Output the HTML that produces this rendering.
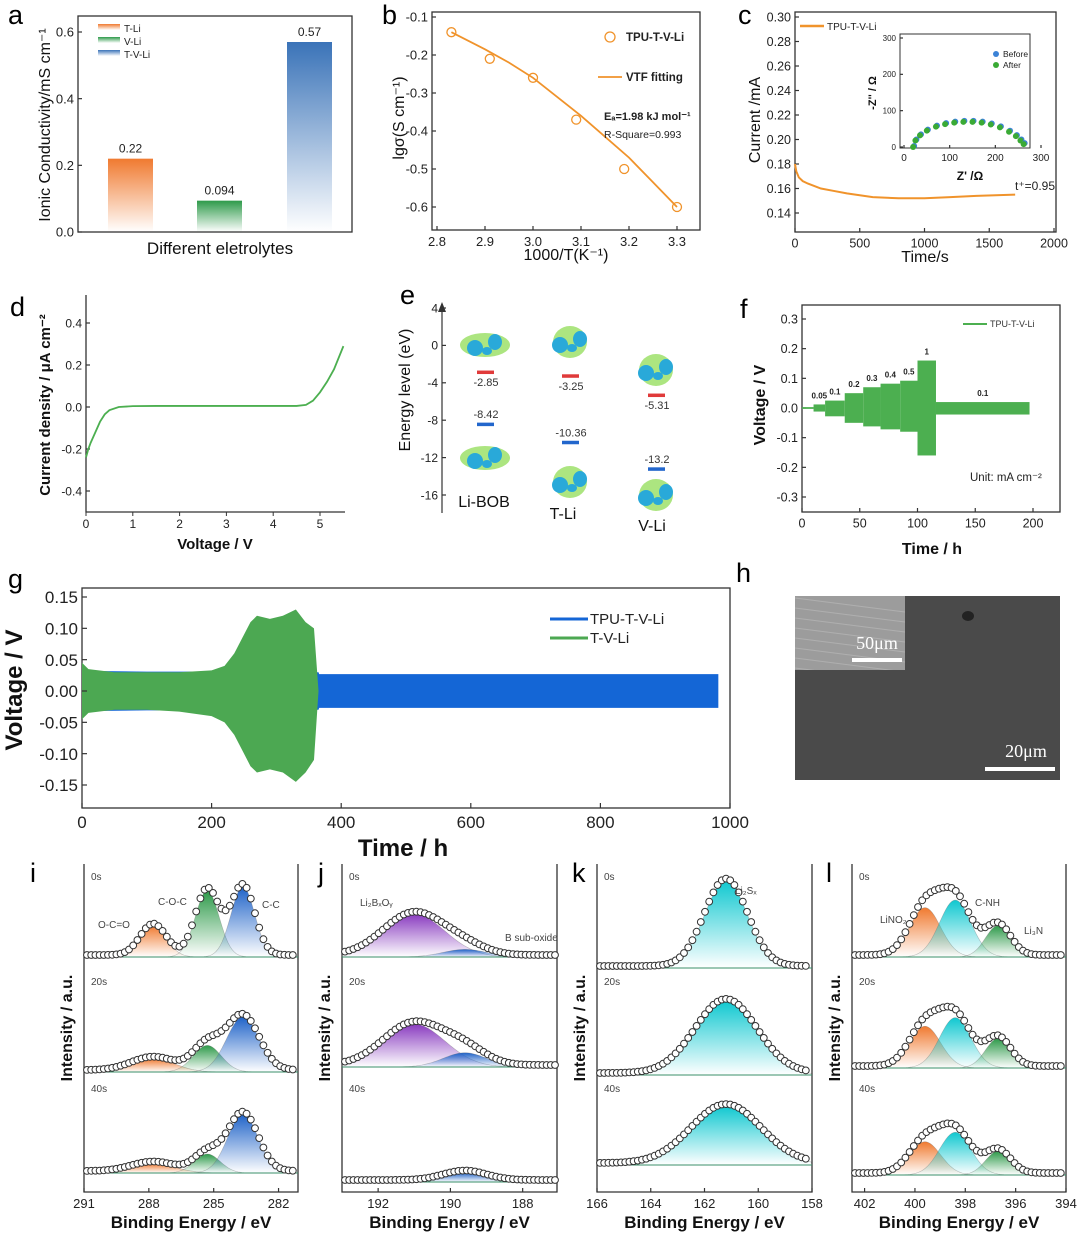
<!DOCTYPE html>
<html><head><meta charset="utf-8">
<style>
html,body{margin:0;padding:0;background:#fff;}
svg{display:block;font-family:"Liberation Sans",Arial,sans-serif;}
</style></head>
<body>
<svg id="fig" width="1080" height="1235" viewBox="0 0 1080 1235">
<defs>
 <linearGradient id="gOrange" x1="0" y1="0" x2="0" y2="1"><stop offset="0" stop-color="#f07a30"/><stop offset="1" stop-color="#f07a30" stop-opacity="0"/></linearGradient>
 <linearGradient id="gGreen" x1="0" y1="0" x2="0" y2="1"><stop offset="0" stop-color="#2e9a4a"/><stop offset="1" stop-color="#2e9a4a" stop-opacity="0"/></linearGradient>
 <linearGradient id="gBlue" x1="0" y1="0" x2="0" y2="1"><stop offset="0" stop-color="#1f63c8"/><stop offset="1" stop-color="#1f63c8" stop-opacity="0"/></linearGradient>
 <linearGradient id="gBarBlue" x1="0" y1="0" x2="0" y2="1"><stop offset="0" stop-color="#3a73b8"/><stop offset="1" stop-color="#3a73b8" stop-opacity="0"/></linearGradient>
 <linearGradient id="gPurple" x1="0" y1="0" x2="0" y2="1"><stop offset="0" stop-color="#8a3cc0"/><stop offset="1" stop-color="#8a3cc0" stop-opacity="0"/></linearGradient>
 <linearGradient id="gCyan" x1="0" y1="0" x2="0" y2="1"><stop offset="0" stop-color="#10c8d0"/><stop offset="1" stop-color="#10c8d0" stop-opacity="0"/></linearGradient>
 <clipPath id="insClip"><rect x="795" y="596" width="110" height="74"/></clipPath>
</defs>
</svg>
<script>
// ---------- DATA ----------
const aCats=['T-Li','V-Li','T-V-Li'];
const aVals=[0.22,0.094,0.57];
const aTicks=[0,0.2,0.4,0.6];
const bX=[2.83,2.91,3.0,3.09,3.19,3.3];
const bY=[-0.14,-0.21,-0.26,-0.37,-0.50,-0.60];
const bFitX=[2.83,2.9,2.95,3.0,3.05,3.1,3.15,3.2,3.25,3.3];
const bFitY=[-0.14,-0.185,-0.22,-0.26,-0.31,-0.36,-0.415,-0.47,-0.535,-0.60];
const bXT=[2.8,2.9,3.0,3.1,3.2,3.3];
const bYT=[-0.1,-0.2,-0.3,-0.4,-0.5,-0.6];
const cT=[0,10,30,60,100,200,300,400,600,800,1000,1200,1400,1700];
const cI=[0.18,0.174,0.169,0.166,0.164,0.160,0.158,0.156,0.153,0.152,0.152,0.153,0.154,0.155];
const cXT=[0,500,1000,1500,2000];
const cYT=[0.14,0.16,0.18,0.20,0.22,0.24,0.26,0.28,0.30];
const cZre=[20,25,35,50,70,90,110,130,150,170,190,210,230,245,255,262];
const cZim=[0,18,32,45,56,63,67,69,69,67,62,54,42,30,18,8];
const dV=[0,0.05,0.1,0.2,0.3,0.4,0.5,0.7,1,1.5,2,3,4,4.5,4.7,4.85,5,5.15,5.3,5.5];
const dI=[-0.24,-0.2,-0.17,-0.12,-0.07,-0.035,-0.015,0,0.004,0.005,0.005,0.005,0.005,0.005,0.01,0.03,0.07,0.12,0.18,0.29];
const dXT=[0,1,2,3,4,5];
const dYT=[-0.4,-0.2,0,0.2,0.4];
const eMols=['Li-BOB','T-Li','V-Li'];
const eLumo=[-2.85,-3.25,-5.31];
const eHomo=[-8.42,-10.36,-13.2];
const eYT=[4,0,-4,-8,-12,-16];
const fStart=[0,10,20,37,53,68,85,100,116];
const fEnd=[10,20,37,53,68,85,100,116,197];
const fUp=[0.003,0.012,0.025,0.05,0.07,0.082,0.092,0.16,0.02];
const fDn=[-0.003,-0.012,-0.028,-0.05,-0.062,-0.072,-0.08,-0.16,-0.022];
const fLab=['','0.05','0.1','0.2','0.3','0.4','0.5','1','0.1'];
const fXT=[0,50,100,150,200];
const fYT=[-0.3,-0.2,-0.1,0,0.1,0.2,0.3];
const gBlueT=[0,20,100,200,300,365,366,500,700,900,982];
const gBlueUp=[0.033,0.032,0.031,0.031,0.031,0.03,0.027,0.027,0.027,0.027,0.027];
const gBlueDn=[-0.033,-0.032,-0.031,-0.031,-0.031,-0.03,-0.027,-0.027,-0.027,-0.027,-0.027];
const gGreenT=[0,10,50,100,150,200,220,235,250,260,270,290,310,330,345,358,365];
const gGreenUp=[0.045,0.035,0.03,0.03,0.03,0.033,0.04,0.06,0.09,0.11,0.12,0.115,0.12,0.13,0.11,0.10,0.0];
const gGreenDn=[-0.045,-0.035,-0.03,-0.03,-0.033,-0.04,-0.05,-0.07,-0.1,-0.12,-0.13,-0.125,-0.13,-0.145,-0.13,-0.11,0.0];
const gXT=[0,200,400,600,800,1000];
const gYT=[-0.15,-0.10,-0.05,0,0.05,0.10,0.15];
const iC=[287.8,285.3,283.65];
const iH0=[33,70,74]; const iS0=[0.6,0.55,0.55];
const iH1=[14,28,58]; const iS1=[1.0,0.65,0.75];
const iH2=[10,20,62]; const iS2=[1.0,0.6,0.7];
const jC=[191.0,189.6];
const jH0=[45,8]; const jH1=[45,15]; const jH2=[0,10]; const jS=[0.85,0.6];
const kC=[161.2];
const kH0=[92]; const kH1=[78]; const kH2=[62]; const kS0=[0.8]; const kS1=[1.15]; const kS2=[1.3];
const lC=[399.6,398.4,396.7];
const lH0=[52,60,33]; const lH1=[44,53,31]; const lH2=[35,45,25]; const lS=[0.62,0.62,0.5];

// ---------- HELPERS ----------
const NS='http://www.w3.org/2000/svg';
const svg=document.getElementById('fig');
function mk(tag,attrs,parent){const e=document.createElementNS(NS,tag);for(const k in attrs)e.setAttribute(k,attrs[k]);(parent||svg).appendChild(e);return e;}
function txt(s,attrs,parent){const e=mk('text',attrs,parent);e.textContent=s;return e;}
function lin(d0,d1,r0,r1){return v=>r0+(v-d0)*(r1-r0)/(d1-d0);}
function group(name){const g=mk('g',{});return g;}
function frame(g,x0,y0,x1,y1){const r=mk('rect',{x:x0,y:y0,width:x1-x0,height:y1-y0,fill:'none',stroke:'#333','stroke-width':1.3},g);return r;}
function xTicks(g,sc,vals,yb,fs,fmt,len){for(const v of vals){const x=sc(v);const t=mk('line',{x1:x,x2:x,y1:yb,y2:yb-(len||4),stroke:'#333','stroke-width':1.2},g);const l=txt(fmt(v),{x:x,y:yb+fs+3,'font-size':fs,'text-anchor':'middle',fill:'#222'},g);}}
function yTicks(g,sc,vals,xl,fs,fmt,len){for(const v of vals){const y=sc(v);const t=mk('line',{x1:xl,x2:xl+(len||4),y1:y,y2:y,stroke:'#333','stroke-width':1.2},g);const l=txt(fmt(v),{x:xl-4,y:y+fs*0.36,'font-size':fs,'text-anchor':'end',fill:'#222'},g);}}
function vlabel(g,s,x,y,fs,bold,name){const t=txt(s,{x:x,y:y,'font-size':fs,'text-anchor':'middle',transform:`rotate(-90 ${x} ${y})`,'font-weight':bold?'bold':'normal',fill:'#111'},g);return t;}
function hlabel(g,s,x,y,fs,bold,name){const t=txt(s,{x:x,y:y,'font-size':fs,'text-anchor':'middle','font-weight':bold?'bold':'normal',fill:'#111'},g);return t;}
function panelLetter(s,x,y){const t=txt(s,{x:x,y:y,'font-size':27,fill:'#000'});}
const f1=v=>v.toFixed(1), f2=v=>v.toFixed(2), f0=v=>String(v);

// ---------- PANEL A ----------
(function(){
const g=group('panel-a-bar-chart');
const y=lin(0,0.6,232,32);
frame(g,78,16,352,232);
yTicks(g,y,aTicks,78,13,f1);
const xs=[108,197,287]; const fills=['url(#gOrange)','url(#gGreen)','url(#gBarBlue)'];
aVals.forEach((v,i)=>{
 const b=mk('rect',{x:xs[i],y:y(v),width:45,height:y(0)-y(v),fill:fills[i]},g);
 
 
 const l=txt(String(v),{x:xs[i]+22.5,y:y(v)-6,'font-size':12,'text-anchor':'middle',fill:'#222'},g);
 
 
 const sw=mk('rect',{x:98,y:24+i*13,width:22,height:6,fill:fills[i]},g);
 
 
 const lt=txt(aCats[i],{x:124,y:32+i*13,'font-size':10,fill:'#222'},g);
 
 
});
vlabel(g,'Ionic Conductivity/mS cm\u207B\u00B9',50,125,16,false,'y-axis-title');
hlabel(g,'Different eletrolytes',220,254,17,false,'x-axis-title');
panelLetter('a',8,24);
})();

// ---------- PANEL B ----------
(function(){
const g=group('panel-b-vtf');
const x=lin(2.8,3.3,437,677), y=lin(-0.1,-0.6,17,207);
frame(g,432,12,700,230);
xTicks(g,x,bXT,230,13,f1); yTicks(g,y,bYT,432,13,f1);
const fit=mk('polyline',{points:bFitX.map((v,i)=>x(v)+','+y(bFitY[i])).join(' '),fill:'none',stroke:'#f0932b','stroke-width':1.8},g);


bX.forEach((v,i)=>{const c=mk('circle',{cx:x(v),cy:y(bY[i]),r:4.5,fill:'none',stroke:'#f0932b','stroke-width':1.3},g);
 
 });
const lc=mk('circle',{cx:610,cy:37,r:5,fill:'none',stroke:'#f0932b','stroke-width':1.3},g);


const t1=txt('TPU-T-V-Li',{x:626,y:41,'font-size':11.5,'font-weight':'bold',fill:'#222'},g);


const ll=mk('line',{x1:598,x2:622,y1:77,y2:77,stroke:'#f0932b','stroke-width':1.8},g);


const t2=txt('VTF fitting',{x:626,y:81,'font-size':11.5,'font-weight':'bold',fill:'#222'},g);


const t3=txt('E\u2090=1.98 kJ mol\u207B\u00B9',{x:604,y:120,'font-size':11,'font-weight':'bold',fill:'#222'},g);


const t4=txt('R-Square=0.993',{x:604,y:138,'font-size':10.5,fill:'#222'},g);


vlabel(g,'lg\u03C3(S cm\u207B\u00B9)',404,118,16,false,'y-axis-title');
hlabel(g,'1000/T(K\u207B\u00B9)',566,260,16,false,'x-axis-title');
panelLetter('b',382,24);
})();

// ---------- PANEL C ----------
(function(){
const g=group('panel-c-current');
const x=lin(0,2000,795,1054), y=lin(0.14,0.30,213,17);
frame(g,795,12,1056,232);
xTicks(g,x,cXT,232,12.5,f0); yTicks(g,y,cYT,795,12.5,f2);
const l=mk('polyline',{points:cT.map((v,i)=>x(v)+','+y(cI[i])).join(' '),fill:'none',stroke:'#f0932b','stroke-width':2},g);


const lg=mk('line',{x1:800,x2:824,y1:26,y2:26,stroke:'#f0932b','stroke-width':2.5},g);


const lt=txt('TPU-T-V-Li',{x:827,y:30,'font-size':10,fill:'#222'},g);


const tp=txt('t\u207A=0.95',{x:1015,y:190,'font-size':12,fill:'#222'},g);


const ix=lin(0,300,904,1041), iy=lin(0,300,147,38);
const ig=mk('g',{},g);


mk('rect',{x:900,y:34,width:130,height:114,fill:'#fff',stroke:'#333','stroke-width':1},ig);
xTicks(ig,ix,[0,100,200,300],148,10,f0,3); yTicks(ig,iy,[0,100,200,300],900,8,f0,3);
cZre.forEach((v,i)=>{
 const a=mk('circle',{cx:ix(v)+1,cy:iy(cZim[i])-1,r:3,fill:'#3b82d6'},ig);
 
 
 const b=mk('circle',{cx:ix(v),cy:iy(cZim[i]),r:3,fill:'#3aaa35'},ig);
 
 
});
const d1=mk('circle',{cx:996,cy:54,r:3,fill:'#3b82d6'},ig);


const d2=mk('circle',{cx:996,cy:65,r:3,fill:'#3aaa35'},ig);


const e1=txt('Before',{x:1003,y:57,'font-size':8.5,fill:'#222'},ig);


const e2=txt('After',{x:1003,y:68,'font-size':8.5,fill:'#222'},ig);


vlabel(ig,"-Z'' / \u03A9",876,93,11,true,'inset-y-title');
hlabel(ig,"Z' /\u03A9",970,180,12,true,'inset-x-title');
vlabel(g,'Current /mA',760,120,16,false,'y-axis-title');
hlabel(g,'Time/s',925,262,16,false,'x-axis-title');
panelLetter('c',738,24);
})();

// ---------- PANEL D ----------
(function(){
const g=group('panel-d-lsv');
const x=lin(0,5,86,320), y=lin(-0.4,0.4,491,323);
const ax=mk('path',{d:'M86,295 V512 H345',fill:'none',stroke:'#333','stroke-width':1.3},g);


for(const v of dXT){const t=mk('line',{x1:x(v),x2:x(v),y1:512,y2:516,stroke:'#333'},g);
 const l=txt(String(v),{x:x(v),y:528,'font-size':12,'text-anchor':'middle',fill:'#222'},g);}
yTicks(g,y,dYT,86,12,f1);
const c=mk('polyline',{points:dV.map((v,i)=>x(v)+','+y(dI[i])).join(' '),fill:'none',stroke:'#4caf50','stroke-width':1.8},g);


vlabel(g,'Current density / \u03BCA cm\u207B\u00B2',50,405,15,true,'y-axis-title');
hlabel(g,'Voltage / V',215,549,15,true,'x-axis-title');
panelLetter('d',10,316);
})();

// ---------- PANEL E ----------
(function(){
const g=group('panel-e-energy-levels');
const y=lin(4,-16,308,495);
const ax=mk('path',{d:'M442,513 V306',fill:'none',stroke:'#333','stroke-width':1.2},g);


const ar=mk('path',{d:'M438,312 L442,302 L446,312 Z',fill:'#333'},g);


yTicks(g,y,eYT,442,12,f0);
const xs=[477,562,648];
const molY=[[345,458],[342,482],[370,495]];
eMols.forEach((m,i)=>{
 molY[i].forEach(cy=>{
  const mg=mk('g',{},g);
  
  
  const cx=xs[i]+8;
  mk('ellipse',{cx:cx,cy:cy,rx:i==0?25:17,ry:i==0?12:16,fill:'#9ee06a',opacity:0.85},mg);
  mk('ellipse',{cx:cx-10,cy:cy+3,rx:8,ry:8,fill:'#29a9d9'},mg);
  mk('ellipse',{cx:cx+10,cy:cy-3,rx:7,ry:8,fill:'#29a9d9'},mg);
  mk('ellipse',{cx:cx+2,cy:cy+6,rx:5,ry:4,fill:'#29a9d9'},mg);
 });
 const lu=mk('rect',{x:xs[i],y:y(eLumo[i])-1.5,width:17,height:3.5,fill:'#e03a3a'},g);
 
 
 const lt=txt(String(eLumo[i]),{x:xs[i]+9,y:y(eLumo[i])+14,'font-size':11,'text-anchor':'middle',fill:'#333'},g);
 
 
 const ho=mk('rect',{x:xs[i],y:y(eHomo[i])-1.5,width:17,height:3.5,fill:'#2266cc'},g);
 
 
 const ht=txt(String(eHomo[i]),{x:xs[i]+9,y:y(eHomo[i])-6,'font-size':11,'text-anchor':'middle',fill:'#333'},g);
 
 
});
const n1=txt('Li-BOB',{x:484,y:507,'font-size':16,'text-anchor':'middle',fill:'#111'},g);


const n2=txt('T-Li',{x:563,y:519,'font-size':16,'text-anchor':'middle',fill:'#111'},g);


const n3=txt('V-Li',{x:652,y:531,'font-size':16,'text-anchor':'middle',fill:'#111'},g);


vlabel(g,'Energy level (eV)',410,390,16,false,'y-axis-title');
panelLetter('e',400,304);
})();

// ---------- PANEL F ----------
(function(){
const g=group('panel-f-rate');
const x=lin(0,200,802,1033), y=lin(-0.3,0.3,497,319);
frame(g,802,305,1060,512);
xTicks(g,x,fXT,512,12.5,f0); yTicks(g,y,fYT,802,12.5,f1);
fStart.forEach((s,i)=>{
 const r=mk('rect',{x:x(s),y:y(fUp[i]),width:x(fEnd[i])-x(s),height:y(fDn[i])-y(fUp[i]),fill:'#4caf50'},g);
 
 
 if(fLab[i]){const t=txt(fLab[i],{x:(x(s)+x(fEnd[i]))/2,y:y(fUp[i])-6,'font-size':8,'font-weight':'bold','text-anchor':'middle',fill:'#222'},g);
  
  }
});
const lg=mk('line',{x1:963,x2:987,y1:324,y2:324,stroke:'#4caf50','stroke-width':2},g);


const lt=txt('TPU-T-V-Li',{x:990,y:327,'font-size':9,fill:'#333'},g);


const u=txt('Unit: mA cm\u207B\u00B2',{x:970,y:481,'font-size':11.5,fill:'#222'},g);


vlabel(g,'Voltage / V',765,405,16,true,'y-axis-title');
hlabel(g,'Time / h',932,554,16,true,'x-axis-title');
panelLetter('f',740,318);
})();

// ---------- PANEL G ----------
(function(){
const g=group('panel-g-cycling');
const x=lin(0,1000,82,730), y=lin(-0.15,0.15,785,597);
frame(g,82,588,730,808);
function band(T,U,D,col,name){
 const pts=T.map((t,i)=>x(t)+','+y(U[i])).concat(T.slice().reverse().map((t,i)=>x(t)+','+y(D[D.length-1-i])));
 const p=mk('polygon',{points:pts.join(' '),fill:col},g);
 
 
}
band(gBlueT,gBlueUp,gBlueDn,'#1466d6','series-tpu-t-v-li');
band(gGreenT,gGreenUp,gGreenDn,'#4ca852','series-t-v-li');
xTicks(g,x,gXT,808,17,f0,5); yTicks(g,y,gYT,82,17,f2,5);
const l1=mk('line',{x1:550,x2:588,y1:619,y2:619,stroke:'#1466d6','stroke-width':3},g);


const t1=txt('TPU-T-V-Li',{x:590,y:624,'font-size':15,fill:'#222'},g);


const l2=mk('line',{x1:550,x2:588,y1:638,y2:638,stroke:'#4ca852','stroke-width':3},g);


const t2=txt('T-V-Li',{x:590,y:643,'font-size':15,fill:'#222'},g);


vlabel(g,'Voltage / V',22,690,24,true,'y-axis-title');
hlabel(g,'Time / h',403,856,24,true,'x-axis-title');
panelLetter('g',8,588);
})();

// ---------- PANEL H ----------
(function(){
const g=group('panel-h-sem');
const bg=mk('rect',{x:795,y:596,width:265,height:184,fill:'#4a4a4a'},g);


const sp=mk('ellipse',{cx:968,cy:616,rx:6,ry:5,fill:'#222'},g);


const ins=mk('rect',{x:795,y:596,width:110,height:74,fill:'#9c9c9c'},g);


const tg=mk('g',{'clip-path':'url(#insClip)'},g);


for(let k=0;k<8;k++){mk('line',{x1:795,y1:598+k*10,x2:905,y2:612+k*10,stroke:'#b8b8b8','stroke-width':1,opacity:0.7},tg);}
const s1=mk('rect',{x:852,y:658,width:50,height:4,fill:'#fff'},g);


const s1t=txt('50\u03BCm',{x:877,y:649,'font-size':18,'font-family':'Liberation Serif, serif','text-anchor':'middle',fill:'#fff'},g);


const s2=mk('rect',{x:985,y:767,width:70,height:4,fill:'#fff'},g);


const s2t=txt('20\u03BCm',{x:1026,y:757,'font-size':18,'font-family':'Liberation Serif, serif','text-anchor':'middle',fill:'#fff'},g);


panelLetter('h',736,582);
})();

// ---------- XPS ----------
function gauss(e,c,h,s){return h*Math.exp(-(e-c)*(e-c)/(2*s*s));}
function xpsPanel(name,letter,lx,x0,x1,eHi,eLo,ticks,C,Hs,Ss,grads,baselines,labels){
 const g=group(name);
 const x=lin(eHi,eLo,x0,x1);
 const ax=mk('path',{d:`M${x0},864 V1192 H${x1} V864`,fill:'none',stroke:'#333','stroke-width':1.3},g);
 
 
 xTicks(g,x,ticks,1192,13,f0,4);
 const sc=0.95;
 const subLabels=['0s','20s','40s']; const subY=[880,985,1092];
 Hs.forEach((H,si)=>{
  const base=baselines[si]; const S=Ss[si];
  C.forEach((c,pi)=>{
   if(H[pi]<=0) return;
   let pts=[];
   for(let px=x0;px<=x1;px+=2){const e=eHi+(px-x0)*(eLo-eHi)/(x1-x0);pts.push(px+','+(base-gauss(e,c,H[pi],S[pi])*sc).toFixed(1));}
   const p=mk('polygon',{points:pts.join(' ')+` ${x1},${base} ${x0},${base}`,fill:grads[pi],stroke:'#666','stroke-opacity':0.4,'stroke-width':0.6},g);
   
   
  });
  const bl=mk('line',{x1:x0,x2:x1,y1:base,y2:base,stroke:'#3a8f6a','stroke-width':1},g);
  
  
  for(let px=x0+3;px<=x1-2;px+=4.2){
   const e=eHi+(px-x0)*(eLo-eHi)/(x1-x0);
   let sum=0; C.forEach((c,pi)=>{sum+=gauss(e,c,H[pi],S[pi]);});
   const o=mk('circle',{cx:px.toFixed(1),cy:(base-sum*sc-2).toFixed(1),r:3.4,fill:'#fff',stroke:'#333','stroke-width':1},g);
   
   
  }
  const st=txt(subLabels[si],{x:x0+7,y:subY[si],'font-size':10,fill:'#444'},g);
  
  
 });
 labels.forEach(l=>{const t=txt(l[0],{x:l[1],y:l[2],'font-size':10,fill:'#444'},g);
  
  });
 vlabel(g,'Intensity / a.u.',x0-12,1028,16,true,'y-axis-title');
 hlabel(g,'Binding Energy / eV',(x0+x1)/2,1228,17,true,'x-axis-title');
 panelLetter(letter,lx,882);
}
xpsPanel('panel-i-c1s','i',30,84,298,291,281.1,[291,288,285,282],iC,[iH0,iH1,iH2],[iS0,iS1,iS2],['url(#gOrange)','url(#gGreen)','url(#gBlue)'],[957,1072,1173],[['O-C=O',98,928],['C-O-C',158,905],['C-C',262,908]]);
xpsPanel('panel-j-b1s','j',318,342,557,193,187.05,[192,190,188],jC,[jH0,jH1,jH2],[jS,jS,jS],['url(#gPurple)','url(#gBlue)'],[957,1067,1182],[['Li\u2082B\u2093O\u1D67',360,906],['B sub-oxide',505,941]]);
xpsPanel('panel-k-s2p','k',572,597,812,166,158,[166,164,162,160,158],kC,[kH0,kH1,kH2],[kS0,kS1,kS2],['url(#gCyan)'],[968,1075,1165],[['Li\u2082S\u2093',735,894]]);
xpsPanel('panel-l-n1s','l',826,852,1066,402.5,394,[402,400,398,396,394],lC,[lH0,lH1,lH2],[lS,lS,lS],['url(#gOrange)','url(#gCyan)','url(#gGreen)'],[957,1068,1175],[['LiNO\u2082',880,923],['C-NH',975,906],['Li\u2083N',1024,934]]);
</script>
</body></html>
